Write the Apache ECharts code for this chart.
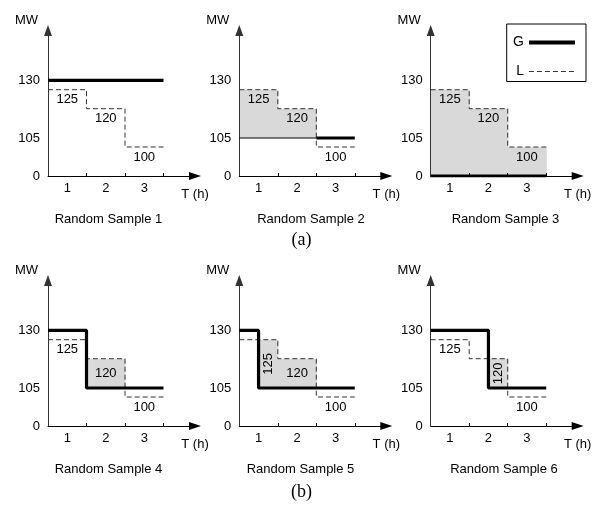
<!DOCTYPE html>
<html><head><meta charset="utf-8">
<script src="https://cdn.jsdelivr.net/npm/echarts@6/dist/echarts.min.js"></script>
<style>html,body{margin:0;padding:0;background:#fff}#c{width:603px;height:506px}</style>
</head><body><div id="c"></div>
<script>
// ---------------- data ----------------
const hourLabels = ['1', '2', '3'];
const loadL = [125, 120, 100];                 // load L, MW, per hour (same in all samples)
// generation G, MW, per half hour (6 half-hours over 3 h)
const sample1G = [130, 130, 130, 130, 130, 130];
const sample2G = [105, 105, 105, 105, 105, 105];
const sample3G = [0, 0, 0, 0, 0, 0];
const sample4G = [130, 130, 105, 105, 105, 105];
const sample5G = [130, 105, 105, 105, 105, 105];
const sample6G = [130, 130, 130, 105, 105, 105];
const yTickMW = [0, 105, 130];
const sampleTitles = ['Random Sample 1', 'Random Sample 2', 'Random Sample 3',
                      'Random Sample 4', 'Random Sample 5', 'Random Sample 6'];
const groupLabels = ['(a)', '(b)'];
const legendNames = ['G', 'L'];

// ---------------- layout / style ----------------
const FONT = 'Liberation Sans, Arial, sans-serif';
const SERIF = 'Liberation Serif, Times New Roman, serif';
const samplesG = [sample1G, sample2G, sample3G, sample4G, sample5G, sample6G];
// label placement per hour: below the dashed line, centred in shade, or rotated in shade
const labelPlacement = [
  ['below', 'below', 'below'],
  ['below', 'below', 'below'],
  ['below', 'below', 'below'],
  ['below', 'center', 'below'],
  ['rotated', 'center', 'below'],
  ['below', 'rotated', 'below']
];
const gThinUntil = [0, 2, 0, 0, 0, 0];   // hours drawn with a thin G line
const originX = [48, 239.3, 430.7];
const originY = [176, 426];
const titleX = [108.5, 311, 505.5, 108.5, 300.5, 504];
const titleY = [219, 469.5];
const groupX = 301.5, groupY = [240, 492];
const PX_PER_HOUR = 38.5;
const GRID_W = 147;
const X_MAX = GRID_W / PX_PER_HOUR;
const Y_LEN = 145.5;
// schematic (non-linear) MW scale -> axis units
const scaleMW = [0, 100, 105, 120, 125, 130];
const scalePos = [0, 29, 38, 67.3, 86.3, 95.7];
function yPos(mw) {
  for (let i = 1; i < scaleMW.length; i++) {
    if (mw <= scaleMW[i]) {
      const t = (mw - scaleMW[i - 1]) / (scaleMW[i] - scaleMW[i - 1]);
      return scalePos[i - 1] + t * (scalePos[i] - scalePos[i - 1]);
    }
  }
  return scalePos[scalePos.length - 1];
}
function stepPts(vals, dt, from, to) {
  const pts = [];
  vals.forEach((v, i) => {
    const t0 = i * dt, t1 = (i + 1) * dt;
    if (t0 >= from - 1e-9 && t1 <= to + 1e-9) { pts.push([t0, yPos(v)]); pts.push([t1, yPos(v)]); }
  });
  return pts;
}

const grids = [], xAxes = [], yAxes = [], series = [], titles = [];
for (let k = 0; k < 6; k++) {
  const r = Math.floor(k / 3), c = k % 3;
  grids.push({ left: originX[c], top: originY[r] - Y_LEN, width: GRID_W, height: Y_LEN });
  xAxes.push({
    gridIndex: k, type: 'value', min: 0, max: X_MAX, z: 5,
    axisLine: { symbol: ['none', 'triangle'], symbolSize: [8, 12], lineStyle: { color: '#000', width: 1 } },
    axisTick: { show: true, inside: true, length: 3, customValues: [1, 2, 3], lineStyle: { color: '#000' } },
    axisLabel: { customValues: [0.5, 1.5, 2.5], formatter: v => hourLabels[Math.round(v - 0.5)],
      margin: 6, fontSize: 13, color: '#000', fontFamily: FONT },
    splitLine: { show: false },
    name: 'T (h)', nameLocation: 'end', nameGap: 0,
    nameTextStyle: { fontSize: 13, color: '#000', fontFamily: FONT, align: 'center', verticalAlign: 'top', padding: [12, 0, 0, 0] }
  });
  yAxes.push({
    gridIndex: k, type: 'value', min: 0, max: Y_LEN, z: 5,
    axisLine: { show: true, symbol: ['none', 'triangle'], symbolSize: [8, 11], lineStyle: { color: '#333', width: 1 } },
    axisTick: { show: false },
    axisLabel: { customValues: yTickMW.map(yPos),
      formatter: v => { const i = yTickMW.findIndex(m => Math.abs(yPos(m) - v) < 0.01); return i >= 0 ? String(yTickMW[i]) : ''; },
      margin: 8, fontSize: 13, color: '#000', fontFamily: FONT },
    splitLine: { show: false },
    name: 'MW', nameLocation: 'end', nameGap: 10.5,
    nameTextStyle: { fontSize: 13, color: '#000', fontFamily: FONT, align: 'right', verticalAlign: 'middle', padding: [0, 10, 0, 0] }
  });

  const g = samplesG[k];
  // shaded areas where load exceeds generation
  const shades = [];
  g.forEach((gv, i) => {
    const lv = loadL[Math.floor(i / 2)];
    if (lv > gv) {
      const last = shades[shades.length - 1];
      if (last && Math.abs(last[1] - i * 0.5) < 1e-9 && last[2] === yPos(gv) && last[3] === yPos(lv)) last[1] = (i + 1) * 0.5;
      else shades.push([i * 0.5, (i + 1) * 0.5, yPos(gv), yPos(lv)]);
    }
  });
  series.push({
    type: 'custom', name: 'shade', xAxisIndex: k, yAxisIndex: k, z: 1, silent: true,
    encode: { x: [0, 1], y: [2, 3] }, data: shades,
    renderItem: (p, api) => {
      const a = api.coord([api.value(0), api.value(3)]);
      const b = api.coord([api.value(1), api.value(2)]);
      // small overlap so adjacent blocks join without a seam
      return { type: 'rect', shape: { x: a[0], y: a[1], width: b[0] - a[0] + 0.6, height: b[1] - a[1] }, style: { fill: '#d9d9d9' } };
    }
  });
  // load L (dashed)
  series.push({
    type: 'line', name: 'L', xAxisIndex: k, yAxisIndex: k, z: 2, symbol: 'none', silent: true,
    data: stepPts(loadL, 1, 0, 3),
    lineStyle: { color: '#333', width: 1, type: [5, 3] }, itemStyle: { color: '#333' }
  });
  // generation G
  if (gThinUntil[k] > 0) {
    series.push({
      type: 'line', name: 'Gthin', xAxisIndex: k, yAxisIndex: k, z: 6, symbol: 'none', silent: true,
      data: stepPts(g, 0.5, 0, gThinUntil[k]),
      lineStyle: { color: '#000', width: 1.2 }
    });
  }
  series.push({
    type: 'line', name: 'G', xAxisIndex: k, yAxisIndex: k, z: 6, symbol: 'none', silent: true,
    data: stepPts(g, 0.5, gThinUntil[k], 3),
    lineStyle: { color: '#000', width: 3.2 }, itemStyle: { color: '#000' }
  });
  // value labels
  const labels = [];
  loadL.forEach((lv, h) => {
    const mode = labelPlacement[k][h];
    if (mode === 'below') {
      labels.push([h + 0.5, yPos(lv), lv, 0, 10]);
    } else {
      let t0 = null, t1 = null, gv = null;
      g.forEach((v, i) => {
        if (Math.floor(i / 2) === h && lv > v) {
          if (t0 === null) t0 = i * 0.5;
          t1 = (i + 1) * 0.5; gv = v;
        }
      });
      labels.push([(t0 + t1) / 2, (yPos(gv) + yPos(lv)) / 2, lv, mode === 'rotated' ? 1 : 0, 0]);
    }
  });
  series.push({
    type: 'custom', name: 'labels', xAxisIndex: k, yAxisIndex: k, z: 7, silent: true,
    encode: { x: 0, y: 1 }, data: labels,
    renderItem: (p, api) => {
      const pt = api.coord([api.value(0), api.value(1)]);
      return { type: 'text', x: pt[0], y: pt[1] + api.value(4), rotation: api.value(3) ? Math.PI / 2 : 0,
        style: { text: String(api.value(2)), fontSize: 13, fontFamily: FONT, fill: '#000', align: 'center', verticalAlign: 'middle' } };
    }
  });
  titles.push({
    text: sampleTitles[k], left: titleX[k], top: titleY[r], textAlign: 'center', textVerticalAlign: 'middle', padding: 0,
    textStyle: { fontSize: 13, fontWeight: 'normal', color: '#000', fontFamily: FONT }
  });
}
groupLabels.forEach((t, i) => titles.push({
  text: t, left: groupX, top: groupY[i], textAlign: 'center', textVerticalAlign: 'middle', padding: 0,
  textStyle: { fontSize: 18, fontWeight: 'normal', color: '#000', fontFamily: SERIF }
}));

const chart = echarts.init(document.getElementById('c'), null, { renderer: 'canvas' });
chart.setOption({
  animation: false,
  backgroundColor: '#fff',
  title: titles,
  grid: grids, xAxis: xAxes, yAxis: yAxes,
  legend: {
    data: [
      { name: legendNames[0], lineStyle: { width: 4 } },
      { name: legendNames[1], lineStyle: { width: 1 } }
    ],
    orient: 'vertical', left: 506.7, top: 24, align: 'right',
    itemWidth: 46, itemHeight: 14, itemGap: 15, padding: [11.5, 9, 3, 6.4],
    borderColor: '#000', borderWidth: 1, selectedMode: false,
    itemStyle: { opacity: 0 },
    textStyle: { fontSize: 14, color: '#000', fontFamily: FONT }
  },
  series: series
});
</script>
</body></html>
